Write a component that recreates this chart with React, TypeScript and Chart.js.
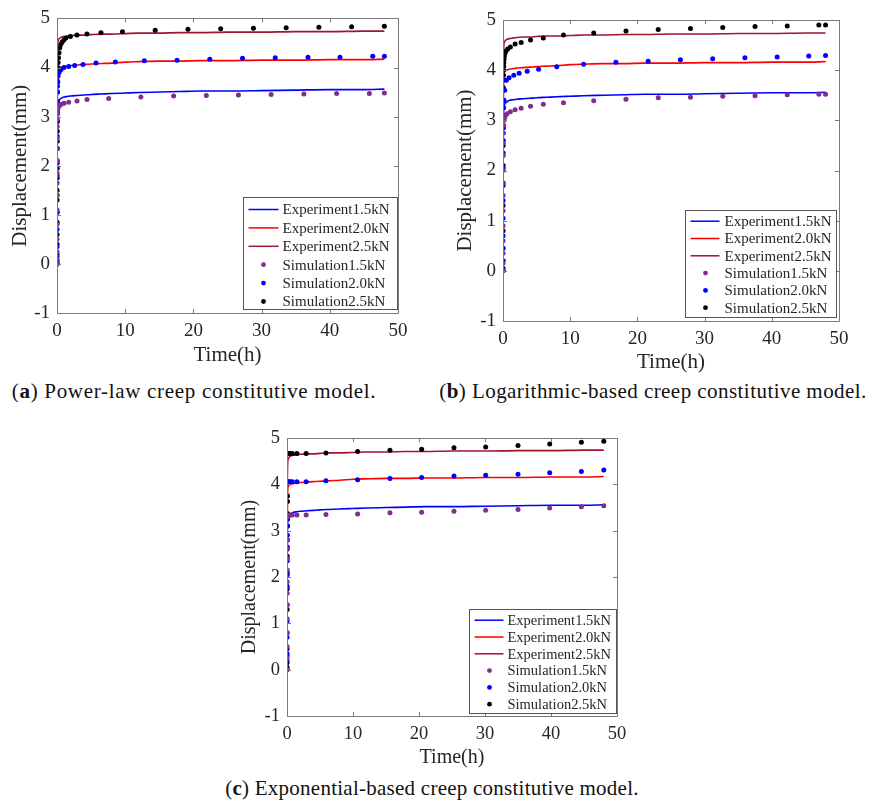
import React, { useEffect, useRef } from "react";
import { Chart, registerables } from "chart.js";

Chart.register(...registerables);

const FONT = "'Liberation Serif', 'Times New Roman', serif";
const TEXT = "#262626";
const FRAME = "#7a7a7a";

const X_TICKS = [0, 10, 20, 30, 40, 50];
const Y_TICKS = [-1, 0, 1, 2, 3, 4, 5];

const LABELS_EXP = ["Experiment1.5kN", "Experiment2.0kN", "Experiment2.5kN"];
const LABELS_SIM = ["Simulation1.5kN", "Simulation2.0kN", "Simulation2.5kN"];
const COLORS_EXP = ["#0000ff", "#ff0000", "#a2142f"];
const COLORS_SIM = ["#7e2f8e", "#0000ff", "#000000"];

// Experimental curves (same test data in all panels)
const expTime = [0, 0.01, 0.02, 0.04, 0.06, 0.1, 0.15, 0.25, 0.4, 0.7, 1, 1.5, 2, 3, 4, 5, 6.5, 8, 10, 12, 15, 18, 21, 25, 30, 35, 40, 45, 48];
const exp15 = [0, 0.8, 1.6, 2.5, 3.0, 3.22, 3.28, 3.32, 3.35, 3.38, 3.40, 3.41, 3.42, 3.43, 3.44, 3.45, 3.46, 3.47, 3.48, 3.49, 3.50, 3.51, 3.52, 3.52, 3.53, 3.54, 3.55, 3.55, 3.56];
const exp20 = [0, 0.9, 1.9, 3.0, 3.6, 3.88, 3.94, 3.97, 3.99, 4.01, 4.02, 4.03, 4.04, 4.05, 4.06, 4.07, 4.08, 4.09, 4.11, 4.12, 4.13, 4.13, 4.14, 4.14, 4.15, 4.15, 4.16, 4.16, 4.17];
const exp25 = [0, 1.1, 2.2, 3.4, 4.1, 4.45, 4.53, 4.57, 4.60, 4.62, 4.63, 4.64, 4.65, 4.66, 4.66, 4.67, 4.68, 4.68, 4.69, 4.70, 4.70, 4.71, 4.71, 4.72, 4.72, 4.73, 4.73, 4.74, 4.74];

// (a) Power-law model simulation
const simA15T = [0, 0, 0.005, 0.005, 0.01, 0.01, 0.015, 0.02, 0.02, 0.025, 0.03, 0.035, 0.04, 0.05, 0.06, 0.08, 0.1, 0.15, 0.25, 0.4, 0.6, 1.03, 1.71, 2.93, 4.4, 7.58, 12.3, 17.1, 21.9, 26.6, 31.4, 36.2, 41.0, 45.8, 48];
const simA15 = [0, 0.1, 0.25, 0.5, 0.8, 1.1, 1.4, 1.65, 1.85, 2.1, 2.35, 2.55, 2.8, 2.95, 3.05, 3.1, 3.14, 3.18, 3.21, 3.23, 3.25, 3.27, 3.29, 3.32, 3.35, 3.37, 3.40, 3.42, 3.43, 3.44, 3.45, 3.46, 3.47, 3.47, 3.48];
const simA20T = [0, 0, 0.005, 0.005, 0.01, 0.01, 0.015, 0.02, 0.02, 0.025, 0.03, 0.035, 0.04, 0.05, 0.07, 0.1, 0.15, 0.3, 0.6, 1.03, 1.71, 2.59, 3.81, 5.72, 8.55, 12.8, 17.6, 22.4, 27.2, 32.0, 36.8, 41.5, 46.3, 48];
const simA20 = [0, 0.15, 0.35, 0.7, 1.05, 1.4, 1.8, 2.05, 2.35, 2.6, 2.9, 3.1, 3.3, 3.5, 3.62, 3.72, 3.82, 3.9, 3.96, 4.0, 4.02, 4.04, 4.06, 4.09, 4.11, 4.14, 4.15, 4.17, 4.19, 4.2, 4.21, 4.21, 4.23, 4.23];
const simA25T = [0, 0, 0.005, 0.005, 0.01, 0.01, 0.015, 0.015, 0.02, 0.02, 0.025, 0.03, 0.03, 0.035, 0.04, 0.045, 0.05, 0.055, 0.06, 0.07, 0.08, 0.1, 0.13, 0.17, 0.22, 0.3, 0.4, 0.55, 0.75, 1.0, 1.3, 1.96, 2.93, 4.4, 6.45, 9.6, 14.4, 19.2, 24.0, 28.8, 33.6, 38.4, 43.2, 48];
const simA25 = [0, 0.03, 0.08, 0.2, 0.4, 0.6, 0.85, 1.05, 1.3, 1.5, 1.75, 1.95, 2.1, 2.35, 2.5, 2.7, 2.9, 3.1, 3.3, 3.5, 3.7, 3.85, 4.0, 4.1, 4.2, 4.3, 4.4, 4.47, 4.52, 4.56, 4.6, 4.63, 4.66, 4.68, 4.71, 4.73, 4.76, 4.78, 4.79, 4.8, 4.81, 4.82, 4.83, 4.84];

// (b) Logarithmic-based model simulation
const simB15T = [0, 0, 0.005, 0.01, 0.01, 0.015, 0.02, 0.025, 0.03, 0.04, 0.05, 0.07, 0.1, 0.15, 0.22, 0.35, 0.6, 1.1, 1.8, 2.7, 4.1, 6.0, 9.0, 13.5, 18.3, 23.1, 27.9, 32.7, 37.5, 42.3, 47, 48];
const simB15 = [0, 0.15, 0.35, 0.6, 0.9, 1.2, 1.5, 1.75, 2.0, 2.3, 2.55, 2.75, 2.9, 3.0, 3.05, 3.09, 3.13, 3.17, 3.21, 3.24, 3.28, 3.32, 3.35, 3.39, 3.42, 3.45, 3.46, 3.48, 3.49, 3.51, 3.52, 3.52];
const simB20T = [0, 0, 0.005, 0.01, 0.01, 0.015, 0.02, 0.025, 0.03, 0.04, 0.05, 0.07, 0.1, 0.15, 0.25, 0.5, 0.9, 1.6, 2.4, 3.6, 5.3, 8.0, 12.0, 16.8, 21.6, 26.4, 31.2, 36.0, 40.8, 45.5, 48];
const simB20 = [0, 0.2, 0.45, 0.7, 1.05, 1.4, 1.7, 2.05, 2.35, 2.6, 2.85, 3.05, 3.25, 3.4, 3.6, 3.8, 3.85, 3.9, 3.94, 3.98, 4.02, 4.07, 4.12, 4.16, 4.18, 4.21, 4.23, 4.25, 4.26, 4.28, 4.29];
const simB25T = [0, 0, 0.005, 0.005, 0.01, 0.01, 0.015, 0.02, 0.025, 0.03, 0.035, 0.04, 0.05, 0.06, 0.07, 0.08, 0.1, 0.12, 0.15, 0.2, 0.3, 0.45, 0.7, 1.1, 1.8, 2.7, 4.1, 6.0, 9.0, 13.5, 18.3, 23.1, 27.9, 32.7, 37.5, 42.3, 47, 48];
const simB25 = [0, 0.05, 0.2, 0.45, 0.8, 1.3, 1.75, 2.1, 2.5, 2.85, 3.1, 3.4, 3.65, 3.8, 3.9, 4.0, 4.08, 4.15, 4.22, 4.28, 4.34, 4.38, 4.42, 4.46, 4.52, 4.55, 4.6, 4.64, 4.7, 4.74, 4.78, 4.81, 4.83, 4.85, 4.87, 4.88, 4.9, 4.9];

// (c) Exponential-based model simulation
const simC15T = [0, 0, 0.005, 0.01, 0.015, 0.02, 0.025, 0.03, 0.04, 0.05, 0.06, 0.08, 0.1, 0.3, 0.5, 0.8, 1.5, 2.9, 5.9, 10.7, 15.6, 20.4, 25.3, 30.1, 35, 39.8, 44.6, 48];
const simC15 = [0, 0.25, 0.5, 0.8, 1.1, 1.4, 1.65, 1.9, 2.15, 2.4, 2.6, 2.8, 3.3, 3.33, 3.34, 3.34, 3.34, 3.34, 3.35, 3.36, 3.39, 3.40, 3.42, 3.44, 3.46, 3.49, 3.52, 3.54];
const simC20T = [0, 0, 0.005, 0.01, 0.015, 0.02, 0.025, 0.03, 0.04, 0.05, 0.06, 0.08, 0.1, 0.12, 0.15, 0.3, 0.5, 0.8, 1.5, 2.9, 5.9, 10.7, 15.6, 20.4, 25.3, 30.1, 35, 39.8, 44.6, 48];
const simC20 = [0, 0.2, 0.35, 0.7, 1.05, 1.4, 1.8, 2.05, 2.35, 2.65, 2.9, 3.1, 3.25, 4.06, 4.06, 4.06, 4.06, 4.06, 4.06, 4.06, 4.08, 4.10, 4.13, 4.15, 4.18, 4.20, 4.22, 4.25, 4.28, 4.31];
const simC25T = [0, 0, 0.005, 0.005, 0.01, 0.015, 0.02, 0.025, 0.03, 0.035, 0.04, 0.05, 0.06, 0.07, 0.08, 0.09, 0.1, 0.3, 0.5, 0.8, 1.5, 2.9, 5.9, 10.7, 15.6, 20.4, 25.3, 30.1, 35, 39.8, 44.6, 48];
const simC25 = [0, 0.05, 0.15, 0.3, 0.45, 0.8, 1.3, 1.75, 2.1, 2.45, 2.8, 3.1, 3.37, 3.63, 3.75, 4.67, 4.67, 4.67, 4.67, 4.67, 4.67, 4.67, 4.68, 4.71, 4.74, 4.76, 4.79, 4.81, 4.84, 4.87, 4.91, 4.93];

const zip = (t: number[], v: number[]) => t.map((x, i) => ({ x, y: v[i] }));

type Legend = { x: number; y: number; w: number; h: number; row0: number; dy: number; l0: number; l1: number; dot: number; tx: number; font: number };
type PanelCfg = {
  left: number; top: number; width: number; height: number;
  area: { l: number; t: number; r: number; b: number };
  legend: Legend;
  sims: { t: number[]; v: number[] }[];
  tickFont: number; titleFont: number;
};

const PANELS: PanelCfg[] = [
  {
    left: 0, top: 0, width: 420, height: 368,
    area: { l: 57, t: 18, r: 398, b: 313 },
    legend: { x: 243, y: 197, w: 154, h: 112, row0: 12, dy: 18.4, l0: 5, l1: 35, dot: 20, tx: 39, font: 15 },
    sims: [{ t: simA15T, v: simA15 }, { t: simA20T, v: simA20 }, { t: simA25T, v: simA25 }],
    tickFont: 19, titleFont: 21,
  },
  {
    left: 445, top: 0, width: 424, height: 375,
    area: { l: 503, t: 20, r: 839, b: 321 },
    legend: { x: 685, y: 210, w: 151, h: 107, row0: 10.7, dy: 17.3, l0: 5, l1: 34, dot: 20, tx: 39, font: 15 },
    sims: [{ t: simB15T, v: simB15 }, { t: simB20T, v: simB20 }, { t: simB25T, v: simB25 }],
    tickFont: 19, titleFont: 21,
  },
  {
    left: 230, top: 420, width: 410, height: 350,
    area: { l: 287, t: 432, r: 617, b: 716 },
    legend: { x: 469, y: 609, w: 147, h: 104, row0: 10.7, dy: 16.8, l0: 5, l1: 34, dot: 20, tx: 38, font: 14.5 },
    sims: [{ t: simC15T, v: simC15 }, { t: simC20T, v: simC20 }, { t: simC25T, v: simC25 }],
    tickFont: 18.5, titleFont: 20,
  },
];

const framePlugin = {
  id: "matlabFrame",
  afterDatasetsDraw(chart: any, _args: any, opts: any) {
    const { ctx, chartArea: a, scales } = chart;
    const cfg: PanelCfg = opts.cfg;
    ctx.save();
    ctx.strokeStyle = FRAME;
    ctx.lineWidth = 1;
    ctx.beginPath();
    ctx.rect(Math.round(a.left) + 0.5, Math.round(a.top) + 0.5, Math.round(a.right - a.left), Math.round(a.bottom - a.top));
    ctx.stroke();
    const tl = 4;
    ctx.beginPath();
    X_TICKS.forEach((v) => {
      const px = Math.round(scales.x.getPixelForValue(v)) + 0.5;
      ctx.moveTo(px, a.bottom); ctx.lineTo(px, a.bottom - tl);
      ctx.moveTo(px, a.top); ctx.lineTo(px, a.top + tl);
    });
    Y_TICKS.forEach((v) => {
      const py = Math.round(scales.y.getPixelForValue(v)) + 0.5;
      ctx.moveTo(a.left, py); ctx.lineTo(a.left + tl, py);
      ctx.moveTo(a.right, py); ctx.lineTo(a.right - tl, py);
    });
    ctx.stroke();

    // legend box
    const L = cfg.legend;
    const bx = Math.round(L.x - cfg.left) + 0.5;
    const by = Math.round(L.y - cfg.top) + 0.5;
    ctx.fillStyle = "#ffffff";
    ctx.fillRect(bx, by, L.w, L.h);
    ctx.strokeStyle = "#555";
    ctx.strokeRect(bx, by, L.w, L.h);
    ctx.font = `${L.font}px ${FONT}`;
    ctx.textBaseline = "middle";
    ctx.textAlign = "left";
    const items = [
      ...LABELS_EXP.map((t, i) => ({ t, c: COLORS_EXP[i], line: true })),
      ...LABELS_SIM.map((t, i) => ({ t, c: COLORS_SIM[i], line: false })),
    ];
    items.forEach((it, i) => {
      const y = by + L.row0 + i * L.dy;
      if (it.line) {
        ctx.strokeStyle = it.c;
        ctx.lineWidth = 1.5;
        ctx.beginPath();
        ctx.moveTo(bx + L.l0, y);
        ctx.lineTo(bx + L.l1, y);
        ctx.stroke();
      } else {
        ctx.fillStyle = it.c;
        ctx.beginPath();
        ctx.arc(bx + L.dot, y, 2.4, 0, Math.PI * 2);
        ctx.fill();
      }
      ctx.fillStyle = TEXT;
      ctx.fillText(it.t, bx + L.tx, y + 1);
    });
    ctx.restore();
  },
};

function Panel({ cfg }: { cfg: PanelCfg }) {
  const ref = useRef<HTMLCanvasElement | null>(null);
  useEffect(() => {
    if (!ref.current) return;
    const expSeries = [exp15, exp20, exp25];
    const datasets: any[] = [];
    expSeries.forEach((v, i) => {
      datasets.push({
        label: LABELS_EXP[i],
        data: zip(expTime, v),
        showLine: true,
        borderColor: COLORS_EXP[i],
        backgroundColor: COLORS_EXP[i],
        borderWidth: 1.6,
        pointRadius: 0,
        cubicInterpolationMode: "monotone",
        order: 1,
      });
    });
    cfg.sims.forEach((s, i) => {
      datasets.push({
        label: LABELS_SIM[i],
        data: zip(s.t, s.v),
        showLine: false,
        backgroundColor: COLORS_SIM[i],
        borderColor: COLORS_SIM[i],
        borderWidth: 0,
        pointRadius: 2.5,
        order: 0,
      });
    });
    const xH = cfg.top + cfg.height - cfg.area.b;
    const yW = cfg.area.l - cfg.left;
    const chart = new Chart(ref.current, {
      type: "scatter",
      data: { datasets },
      plugins: [framePlugin],
      options: {
        responsive: false,
        animation: false,
        layout: {
          padding: { left: 0, bottom: 0, top: cfg.area.t - cfg.top, right: cfg.left + cfg.width - cfg.area.r },
        },
        plugins: {
          legend: { display: false },
          tooltip: { enabled: false },
          matlabFrame: { cfg },
        } as any,
        scales: {
          x: {
            type: "linear",
            min: 0,
            max: 50,
            afterBuildTicks: (s: any) => { s.ticks = X_TICKS.map((value) => ({ value })); },
            afterFit: (s: any) => { s.height = xH; },
            ticks: { color: TEXT, font: { family: FONT, size: cfg.tickFont }, padding: 7, maxRotation: 0, autoSkip: false },
            grid: { display: false, drawTicks: false },
            border: { display: false },
            title: { display: true, text: "Time(h)", color: TEXT, font: { family: FONT, size: cfg.titleFont }, padding: 0 },
          },
          y: {
            type: "linear",
            min: -1,
            max: 5,
            afterBuildTicks: (s: any) => { s.ticks = Y_TICKS.map((value) => ({ value })); },
            afterFit: (s: any) => { s.width = yW; },
            ticks: { color: TEXT, font: { family: FONT, size: cfg.tickFont }, padding: 7, autoSkip: false },
            grid: { display: false, drawTicks: false },
            border: { display: false },
            title: { display: true, text: "Displacement(mm)", color: TEXT, font: { family: FONT, size: cfg.titleFont }, padding: { top: 8, bottom: 0 } },
          },
        },
      } as any,
    });
    return () => chart.destroy();
  }, [cfg]);
  return (
    <div style={{ position: "absolute", left: cfg.left, top: cfg.top, width: cfg.width, height: cfg.height }}>
      <canvas ref={ref} width={cfg.width} height={cfg.height} style={{ width: cfg.width, height: cfg.height, display: "block" }} />
    </div>
  );
}

const CAPTIONS = [
  { tag: "a", text: " Power-law creep constitutive model.", cx: 194, top: 379, ls: 0.7 },
  { tag: "b", text: " Logarithmic-based creep constitutive model.", cx: 653, top: 379, ls: 0.45 },
  { tag: "c", text: " Exponential-based creep constitutive model.", cx: 432, top: 776, ls: 0.25 },
];

export default function App() {
  return (
    <div style={{ position: "absolute", left: 0, top: 0, width: 869, height: 805, background: "#fff", overflow: "hidden" }}>
      {PANELS.map((p, i) => <Panel key={i} cfg={p} />)}
      {CAPTIONS.map((c) => (
        <div
          key={c.tag}
          style={{
            position: "absolute", left: c.cx - 250, width: 500, top: c.top, textAlign: "center",
            fontFamily: FONT, fontSize: 21, lineHeight: "25px", letterSpacing: `${c.ls}px`, color: "#111", whiteSpace: "nowrap",
          }}
        >
          (<b>{c.tag}</b>){c.text}
        </div>
      ))}
    </div>
  );
}
